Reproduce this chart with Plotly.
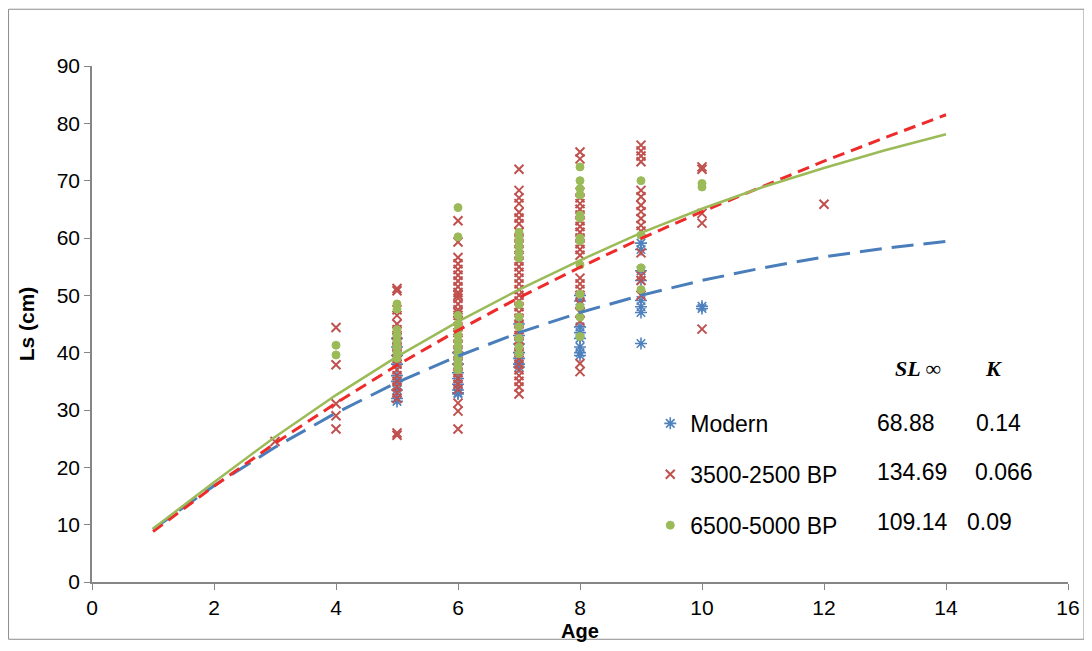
import plotly.graph_objects as go

# growth curves at each age
curve_age = [1, 2, 3, 4, 5, 6, 7, 8, 9, 10, 11, 12, 13, 14]
modern_curve = [9.2, 16.8, 23.5, 29.5, 34.8, 39.4, 43.5, 47.0, 50.0, 52.6, 54.8, 56.7, 58.2, 59.4]
bp3500_curve = [8.8, 16.7, 24.2, 31.2, 37.8, 43.9, 49.6, 54.9, 59.9, 64.6, 69.0, 73.4, 77.5, 81.5]
bp6500_curve = [9.3, 17.4, 25.3, 32.6, 39.3, 45.4, 51.0, 56.1, 60.9, 65.1, 68.9, 72.2, 75.3, 78.1]

# individual fish, Ls (cm) per age
modern_pts = {
    5: [42.5, 41.0, 39.5, 38.0, 36.0, 35.0, 33.5, 32.0, 31.5],
    6: [40.0, 38.0, 36.5, 35.5, 34.5, 33.5, 33.0, 32.8],
    7: [45.0, 43.0, 41.5, 40.0, 39.0, 38.0, 37.5],
    8: [50.0, 49.0, 44.5, 43.5, 42.5, 41.0, 40.0, 39.5],
    9: [59.1, 58.0, 54.3, 52.6, 49.1, 48.0, 47.0, 41.6],
    10: [48.1, 47.7],
}
bp3500_pts = {
    3: [24.5],
    4: [44.4, 37.9, 31.1, 29.0, 26.7],
    5: [51.2, 50.8, 47.5, 46.5, 45.0, 44.0, 43.0, 42.0, 41.0, 40.0, 39.0, 38.0,
        37.0, 36.0, 35.0, 34.0, 33.0, 32.0, 26.0, 25.6],
    6: [63.0, 59.3, 56.6, 55.5, 54.5, 53.5, 52.5, 51.5, 50.5, 50.0, 49.5, 48.5,
        47.5, 47.0, 46.5, 45.5, 44.5, 43.5, 42.5, 41.5, 40.5, 39.5, 38.5, 37.5,
        36.5, 35.5, 34.5, 33.6, 31.2, 29.8, 26.7],
    7: [72.0, 68.3, 67.0, 66.0, 64.5, 63.5, 62.5, 61.0, 60.0, 59.0, 58.0, 57.0,
        56.0, 55.0, 54.0, 53.0, 52.0, 51.0, 50.0, 49.0, 48.0, 47.0, 46.0, 45.0,
        44.0, 43.0, 42.0, 41.0, 40.0, 39.0, 38.0, 37.0, 36.0, 35.0, 34.0, 32.8],
    8: [75.0, 73.8, 68.0, 67.0, 66.0, 65.0, 64.0, 63.0, 62.0, 61.0, 60.0, 59.0,
        58.0, 57.0, 53.0, 52.0, 51.0, 50.0, 48.5, 47.0, 45.5, 38.1, 36.7],
    9: [76.2, 75.2, 74.3, 73.3, 68.3, 67.2, 65.7, 64.6, 63.4, 62.2, 61.2, 57.4,
        53.4, 52.6, 50.0],
    10: [72.4, 72.0, 64.3, 62.6, 44.1],
    12: [65.9],
}
bp6500_pts = {
    4: [41.3, 39.6],
    5: [48.5, 47.6, 44.0, 43.0, 42.0, 41.0, 40.0, 39.0],
    6: [65.3, 60.2, 46.5, 45.0, 44.0, 43.0, 42.0, 41.0, 40.0, 39.0, 38.0, 37.5, 37.0],
    7: [61.0, 60.0, 59.3, 58.5, 57.5, 56.5, 48.4, 46.2, 44.5, 42.5, 41.0, 39.8],
    8: [72.4, 70.0, 68.6, 67.5, 64.0, 63.5, 60.0, 59.5, 55.3, 50.2, 48.0, 46.2, 42.8],
    9: [70.0, 60.5, 54.8, 51.0],
    10: [69.5, 68.9],
}

groups = ['Modern', '3500-2500 BP', '6500-5000 BP']
sl_inf = ['68.88', '134.69', '109.14']
k_vals = ['0.14', '0.066', '0.09']


def flatten(d):
    xs, ys = [], []
    for age, vals in d.items():
        for v in vals:
            xs.append(age)
            ys.append(v)
    return xs, ys


fig = go.Figure()

# scatter points
styles = [
    (modern_pts, 'asterisk-open', '#4F81BD', 10, 1.6),
    (bp3500_pts, 'x-thin-open', '#C0504D', 9, 2),
    (bp6500_pts, 'circle', '#9BBB59', 8, 1),
]
for name, (pts, sym, col, sz, lw) in zip(groups, styles):
    xs, ys = flatten(pts)
    fig.add_trace(go.Scatter(
        x=xs, y=ys, mode='markers', name=name, legendgroup=name,
        marker=dict(symbol=sym, color=col, size=sz, line=dict(width=lw, color=col))))

# fitted curves
fig.add_trace(go.Scatter(x=curve_age, y=modern_curve, mode='lines', showlegend=False,
                         line=dict(color='#4A7EBB', width=3, dash='22px,10px')))
fig.add_trace(go.Scatter(x=curve_age, y=bp3500_curve, mode='lines', showlegend=False,
                         line=dict(color='#EE2B2B', width=3, dash='12px,7px')))
fig.add_trace(go.Scatter(x=curve_age, y=bp6500_curve, mode='lines', showlegend=False,
                         line=dict(color='#9BBB59', width=2.5)))

# table next to the legend
annos = [
    dict(x=0.8465, y=0.413, text='<b><i>SL \u221e</i></b>', xanchor='center',
         font=dict(family='Liberation Serif', size=22, color='black')),
    dict(x=0.924, y=0.413, text='<b><i>K</i></b>', xanchor='center',
         font=dict(family='Liberation Serif', size=22, color='black')),
]
row_y = [0.309, 0.213, 0.117]
k_x = [0.929, 0.9345, 0.920]
for i in range(3):
    annos.append(dict(x=0.8025, y=row_y[i], text=sl_inf[i], xanchor='left'))
    annos.append(dict(x=k_x[i], y=row_y[i], text=k_vals[i], xanchor='center'))
for a in annos:
    a.update(xref='paper', yref='paper', showarrow=False, yanchor='middle')
    a.setdefault('font', dict(family='Liberation Sans', size=23, color='black'))

axis_col = '#868686'
fig.update_layout(
    width=1084, height=643,
    margin=dict(l=84, r=23, t=58, b=63),
    paper_bgcolor='white', plot_bgcolor='white',
    font=dict(family='Liberation Sans', color='black'),
    annotations=annos,
    showlegend=True,
    legend=dict(x=0.572, y=0.349, xanchor='left', yanchor='top',
                font=dict(size=23, color='black'), traceorder='grouped',
                tracegroupgap=18, bgcolor='rgba(0,0,0,0)'),
    xaxis=dict(range=[0, 16], dtick=2, showgrid=False, zeroline=False,
               showline=True, linecolor=axis_col, linewidth=1.5,
               ticks='outside', ticklen=6, tickcolor=axis_col,
               tickfont=dict(size=21),
               title=dict(text='<b>Age</b>', font=dict(size=20), standoff=6)),
    yaxis=dict(range=[0, 90], dtick=10, showgrid=False, zeroline=False,
               showline=True, linecolor=axis_col, linewidth=1.5,
               ticks='outside', ticklen=6, tickcolor=axis_col,
               tickfont=dict(size=21),
               title=dict(text='<b>Ls (cm)</b>', font=dict(size=21), standoff=16)),
    shapes=[dict(type='rect', xref='paper', yref='paper',
                 x0=-0.0855, x1=1.0164, y0=-0.111, y1=1.110,
                 line=dict(color='#8C8C8C', width=1))],
)

fig.write_html("out.html")
